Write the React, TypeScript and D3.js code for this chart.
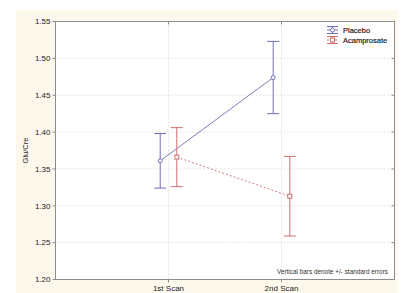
import React from 'react';
import * as d3 from 'd3';

const scans = ['1st Scan', '2nd Scan'];
const yTicks = [1.2, 1.25, 1.3, 1.35, 1.4, 1.45, 1.5, 1.55];

const placeboMean = [1.361, 1.474];
const placeboSE = [0.037, 0.049];
const acampMean = [1.366, 1.313];
const acampSE = [0.040, 0.054];

const BLUE = '#6e6eb8';
const RED = '#d06c6c';

const App: React.FC = () => {
    const W = 401, H = 293;
    const m = { left: 55.5, right: 394.5, top: 21.5, bottom: 279.5 };

    const x = d3.scalePoint<string>().domain(scans).range([m.left, m.right]).padding(1);
    const y = d3.scaleLinear().domain([1.2, 1.55]).range([m.bottom, m.top]);

    const series = [
        { name: 'Placebo', mean: placeboMean, se: placeboSE, color: BLUE, off: -8.3, dash: undefined as string | undefined, marker: 'circle' },
        { name: 'Acamprosate', mean: acampMean, se: acampSE, color: RED, off: 8.3, dash: '2,2', marker: 'square' },
    ];

    const line = (s: typeof series[0]) =>
        d3.line<number>()
            .x((d, i) => (x(scans[i]) || 0) + s.off)
            .y((d) => y(d))(s.mean) || '';

    const marker = (s: typeof series[0], cx: number, cy: number, key: string) =>
        s.marker === 'circle'
            ? <circle key={key} cx={cx} cy={cy} r={2} fill="white" stroke={s.color} strokeWidth={1} />
            : <rect key={key} x={cx - 2} y={cy - 2} width={4} height={4} fill="white" stroke={s.color} strokeWidth={1} />;

    return (
        <svg width={W} height={H} style={{ position: 'absolute', left: 0, top: 0 }}
            fontFamily="'Liberation Sans', Arial, sans-serif">
            <rect x={0} y={0} width={W} height={H} fill="white" />
            <rect x={16} y={10} width={382} height={283} fill="#fdf8ec" />
            <rect x={m.left} y={m.top} width={m.right - m.left} height={m.bottom - m.top} fill="white" />

            {/* grid */}
            {yTicks.slice(1, -1).map((t) => (
                <line key={'gy' + t} x1={m.left} x2={m.right} y1={y(t)} y2={y(t)}
                    stroke="#dadada" strokeWidth={0.8} strokeDasharray="2,2" />
            ))}
            {scans.map((s) => (
                <line key={'gx' + s} x1={x(s)} x2={x(s)} y1={m.top} y2={m.bottom}
                    stroke="#dadada" strokeWidth={0.8} strokeDasharray="2,2" />
            ))}

            {/* frame */}
            <rect x={m.left} y={m.top} width={m.right - m.left} height={m.bottom - m.top}
                fill="none" stroke="#8c8c8c" strokeWidth={1} />

            {/* y ticks */}
            {yTicks.map((t) => (
                <g key={'yt' + t}>
                    <line x1={m.left - 3} x2={m.left} y1={y(t)} y2={y(t)} stroke="#8c8c8c" />
                    <line x1={m.right - 3} x2={m.right} y1={y(t)} y2={y(t)} stroke="#8c8c8c" />
                    <text x={50.5} y={y(t)} dy="0.35em" textAnchor="end" fontSize={8} fill="#222">
                        {t.toFixed(2)}
                    </text>
                </g>
            ))}
            <text transform={`translate(28,${(m.top + m.bottom) / 2}) rotate(-90)`} textAnchor="middle"
                fontSize={7.5} fill="#222">Glu/Cre</text>

            {/* x ticks */}
            {scans.map((s) => (
                <g key={'xt' + s}>
                    <line x1={x(s)} x2={x(s)} y1={m.bottom} y2={m.bottom + 3} stroke="#8c8c8c" />
                    <line x1={x(s)} x2={x(s)} y1={m.top} y2={m.top + 3} stroke="#8c8c8c" />
                    <text x={x(s)} y={291} textAnchor="middle" fontSize={8} fill="#222">{s}</text>
                </g>
            ))}

            {/* series */}
            {series.map((s) => (
                <g key={s.name}>
                    <path d={line(s)} fill="none" stroke={s.color} strokeWidth={0.9} strokeDasharray={s.dash} />
                    {s.mean.map((v, i) => {
                        const cx = (x(scans[i]) || 0) + s.off;
                        const top = y(v + s.se[i]);
                        const bot = y(v - s.se[i]);
                        return (
                            <g key={i}>
                                <line x1={cx} x2={cx} y1={top} y2={bot} stroke={s.color} strokeWidth={1} />
                                <line x1={cx - 6} x2={cx + 6} y1={top} y2={top} stroke={s.color} strokeWidth={1} />
                                <line x1={cx - 6} x2={cx + 6} y1={bot} y2={bot} stroke={s.color} strokeWidth={1} />
                                {marker(s, cx, y(v), 'mk' + i)}
                            </g>
                        );
                    })}
                </g>
            ))}

            {/* legend */}
            {series.map((s, i) => {
                const ly = 30 + i * 10;
                const lx = 332.5;
                return (
                    <g key={'lg' + s.name}>
                        <line x1={lx - 5.5} x2={lx + 5.5} y1={ly - 3.5} y2={ly - 3.5} stroke={s.color} />
                        <line x1={lx - 5.5} x2={lx + 5.5} y1={ly + 3.5} y2={ly + 3.5} stroke={s.color} />
                        <line x1={lx} x2={lx} y1={ly - 3.5} y2={ly + 3.5} stroke={s.color} />
                        <line x1={lx - 5.5} x2={lx + 5.5} y1={ly} y2={ly} stroke={s.color} strokeDasharray={s.dash} />
                        {marker(s, lx, ly, 'lm')}
                        <text x={343} y={ly} dy="0.35em" fontSize={7.5} fill="#111" stroke="#111" strokeWidth={0.15}>{s.name}</text>
                    </g>
                );
            })}

            <text x={388} y={274} textAnchor="end" fontSize={6.4} fill="#333">
                Vertical bars denote +/- standard errors
            </text>
        </svg>
    );
};

export default App;
